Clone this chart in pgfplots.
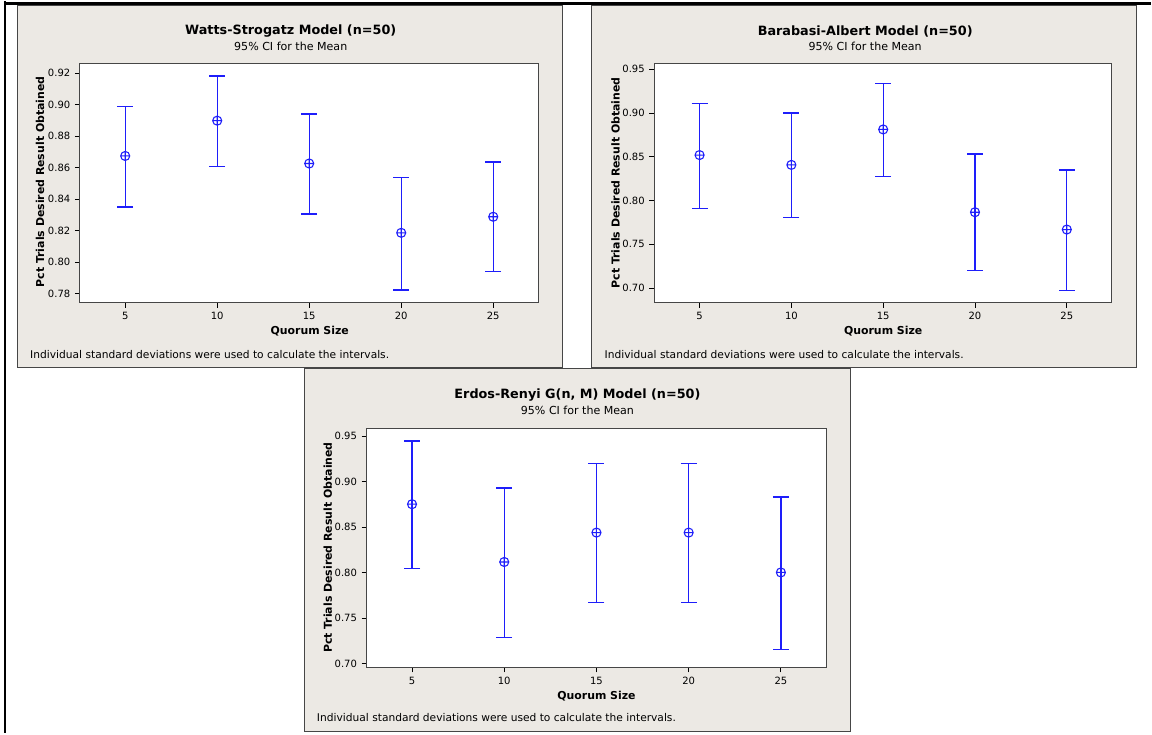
\documentclass[border=0pt]{standalone}
\usepackage{fontspec}
\setmainfont{DejaVu Sans}
\usepackage{pgfplots}
\usepackage{pgfplotstable}
\pgfplotsset{compat=1.18}
\definecolor{panelbg}{RGB}{236,233,228}
\definecolor{barblue}{RGB}{30,30,250}
\definecolor{frame}{RGB}{70,70,70}

\pgfplotstableread{
q m hi lo
5 0.8673 0.8989 0.8350
10 0.8897 0.9181 0.8604
15 0.8625 0.8940 0.8304
20 0.8185 0.8538 0.7823
25 0.8287 0.8634 0.7940
}\ws
\pgfplotstableread{
q m hi lo
5 0.8520 0.9106 0.7913
10 0.8408 0.9000 0.7807
15 0.8813 0.9340 0.8276
20 0.7867 0.8534 0.7200
25 0.7669 0.8348 0.6971
}\ba
\pgfplotstableread{
q m hi lo
5 0.8750 0.9445 0.8042
10 0.8115 0.8929 0.7285
15 0.8438 0.9196 0.7673
20 0.8438 0.9196 0.7673
25 0.8000 0.8830 0.7154
}\er

\pgfplotsset{ciaxis/.style={
  scale only axis, anchor=north west,
  xmin=2.54, xmax=27.46,
  xtick={5,10,15,20,25},
  tick align=outside, major tick length=3.75pt,
  tick pos=left,
  axis line style={draw=frame, line width=0.75pt},
  tick style={black, line width=0.6pt},
  ticklabel style={font=\fontsize{7.5}{9}\selectfont},
  /pgf/number format/assume math mode=true,
  yticklabel style={/pgf/number format/fixed, /pgf/number format/fixed zerofill, /pgf/number format/precision=2},
  axis background/.style={fill=white},
},
ciplot/.style={barblue, draw=barblue, only marks, mark=oplus, mark size=3.4pt,
  mark options={fill=white, draw=barblue, line width=0.8pt},
  error bars/y dir=both, error bars/y explicit,
  error bars/error mark=-,
  error bars/error mark options={barblue, draw=barblue, rotate=90, mark size=6pt, line width=1pt},
  error bars/error bar style={barblue, draw=barblue, line width=1pt},
}}

\newcommand{\ttl}{\fontsize{9.6}{11}\selectfont\bfseries}
\newcommand{\sub}{\fontsize{8.3}{10}\selectfont}
\newcommand{\lab}{\fontsize{8.2}{10}\selectfont\bfseries}
\newcommand{\foot}{\fontsize{8}{9.5}\selectfont}

\begin{document}
\begin{tikzpicture}[x=0.75pt, y=0.75pt]
\fill[white] (0,0) rectangle (1152,733);
% panels
\filldraw[fill=panelbg, draw=frame, line width=0.75pt] (18,729) rectangle (563,366);
\filldraw[fill=panelbg, draw=frame, line width=0.75pt] (592,729) rectangle (1138,366);
\filldraw[fill=panelbg, draw=frame, line width=0.75pt] (305,365) rectangle (851,2);
% outer table lines
\draw[black, line width=1.6pt] (4,730.5) -- (1152,730.5);
\draw[black, line width=1.6pt] (5,733) -- (5,0);
\coordinate (P1) at (80,671);
\coordinate (P2) at (655,670);
\coordinate (P3) at (367,305);

% ---------- Watts-Strogatz ----------
\begin{axis}[ciaxis, at={(P1)}, width=344.25pt, height=180pt,
  ymin=0.7741, ymax=0.9263, ytick={0.78,0.80,0.82,0.84,0.86,0.88,0.90,0.92}]
\addplot[ciplot] table[x=q, y=m, y error plus expr=\thisrow{hi}-\thisrow{m}, y error minus expr=\thisrow{m}-\thisrow{lo}] {\ws};
\end{axis}
\node[font=\ttl] at (291,703) {Watts-Strogatz Model (n=50)};
\node[font=\sub] at (291,688) {95\% CI for the Mean};
\node[font=\lab, rotate=90] at (40,552) {Pct Trials Desired Result Obtained};
\node[font=\lab] at (310,403) {Quorum Size};
\node[font=\foot, anchor=west, inner sep=0pt] at (30,379) {Individual standard deviations were used to calculate the intervals.};

% ---------- Barabasi-Albert ----------
\begin{axis}[ciaxis, at={(P2)}, width=343.5pt, height=179.25pt,
  ymin=0.6832, ymax=0.9561, ytick={0.70,0.75,0.80,0.85,0.90,0.95}]
\addplot[ciplot] table[x=q, y=m, y error plus expr=\thisrow{hi}-\thisrow{m}, y error minus expr=\thisrow{m}-\thisrow{lo}] {\ba};
\end{axis}
\node[font=\ttl] at (866,703) {Barabasi-Albert Model (n=50)};
\node[font=\sub] at (866,688) {95\% CI for the Mean};
\node[font=\lab, rotate=90] at (616,551) {Pct Trials Desired Result Obtained};
\node[font=\lab] at (884,403) {Quorum Size};
\node[font=\foot, anchor=west, inner sep=0pt] at (605,379) {Individual standard deviations were used to calculate the intervals.};

% ---------- Erdos-Renyi ----------
\begin{axis}[ciaxis, at={(P3)}, width=345pt, height=179.25pt,
  ymin=0.6956, ymax=0.958, ytick={0.70,0.75,0.80,0.85,0.90,0.95}]
\addplot[ciplot] table[x=q, y=m, y error plus expr=\thisrow{hi}-\thisrow{m}, y error minus expr=\thisrow{m}-\thisrow{lo}] {\er};
\end{axis}
\node[font=\ttl] at (578,339) {Erdos-Renyi G(n, M) Model (n=50)};
\node[font=\sub] at (578,323) {95\% CI for the Mean};
\node[font=\lab, rotate=90] at (328,186) {Pct Trials Desired Result Obtained};
\node[font=\lab] at (597,37) {Quorum Size};
\node[font=\foot, anchor=west, inner sep=0pt] at (317,16) {Individual standard deviations were used to calculate the intervals.};
\end{tikzpicture}
\end{document}
